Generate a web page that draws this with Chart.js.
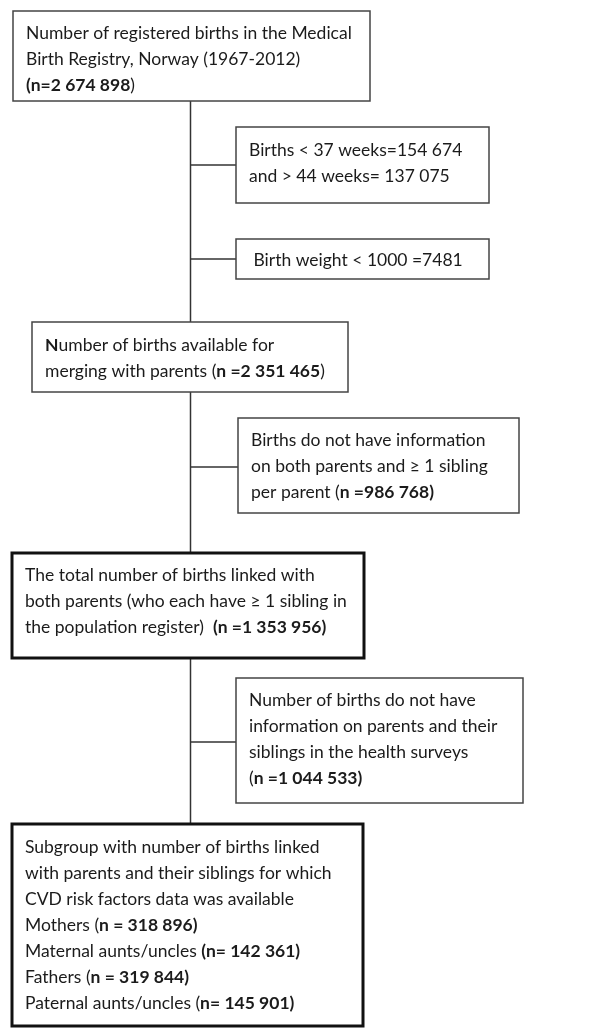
<!DOCTYPE html>
<html>
<head>
<meta charset="utf-8">
<script src="https://cdn.jsdelivr.net/npm/chart.js@4.4.1/dist/chart.umd.min.js"></script>
<style>
  html, body { margin: 0; padding: 0; background: #fff; }
  #wrap { width: 609px; height: 1028px; position: relative; }
</style>
</head>
<body>
<div id="wrap"><canvas id="flow"></canvas></div>
<script>
// ─── Data: box texts (** marks bold) ─────────────────────────
const mainSteps = [
  ['Number of registered births in the Medical', 'Birth Registry, Norway (1967-2012)', '**(n=2 674 898**)'],
  ['**N**umber of births available for', 'merging with parents (**n =2 351 465**)'],
  ['The total number of births linked with', 'both parents (who each have ≥ 1 sibling in', 'the population register)  **(n =1 353 956)**'],
  ['Subgroup with number of births linked', 'with parents and their siblings for which', 'CVD risk factors data was available',
   'Mothers (**n = 318 896)**', 'Maternal aunts/uncles **(n= 142 361)**', 'Fathers (**n = 319 844)**', 'Paternal aunts/uncles (**n= 145 901)**']
];
const exclusions = [
  ['Births < 37 weeks=154 674', 'and > 44 weeks= 137 075'],
  [' Birth weight < 1000 =7481'],
  ['Births do not have information', 'on both parents and ≥ 1 sibling', 'per parent (**n =986 768)**'],
  ['Number of births do not have', 'information on parents and their', 'siblings in the health surveys', '(**n =1 044 533)**']
];

// ─── Layout (pixel units on the hidden scales) ───────────────
const mainBoxes = [
  { x0: 13, y0: 11, x1: 370, y1: 101, lw: 1.5, top: 33 },
  { x0: 32, y0: 322, x1: 348, y1: 392, lw: 1.5, top: 345 },
  { x0: 12, y0: 553, x1: 364, y1: 658, lw: 3, top: 575 },
  { x0: 12, y0: 824, x1: 363, y1: 1026, lw: 3, top: 847 }
];
const sideBoxes = [
  { x0: 236, y0: 127, x1: 489, y1: 203, lw: 1.5, top: 150, link: 165 },
  { x0: 236, y0: 239, x1: 489, y1: 279, lw: 1.5, top: 260, link: 259 },
  { x0: 238, y0: 418, x1: 519, y1: 513, lw: 1.5, top: 440, link: 467 },
  { x0: 236, y0: 678, x1: 523, y1: 803, lw: 1.5, top: 700, link: 742 }
];
const spineX = 190.5;
const lineH = 26;
const FONT = 'Lato, "Open Sans", sans-serif';

function parseLine(str) {
  const parts = str.split('**');
  return parts.map((t, i) => ({ t, bold: i % 2 === 1 })).filter(p => p.t.length);
}

const flowPlugin = {
  id: 'flow',
  afterDraw(chart) {
    const { ctx, scales: { x, y } } = chart;
    const px = v => x.getPixelForValue(v);
    const py = v => y.getPixelForValue(v);
    ctx.save();
    ctx.lineCap = 'butt';

    // spine + connectors
    ctx.strokeStyle = '#333';
    ctx.lineWidth = 1.5;
    for (let i = 0; i < mainBoxes.length - 1; i++) {
      ctx.beginPath();
      ctx.moveTo(px(spineX), py(mainBoxes[i].y1));
      ctx.lineTo(px(spineX), py(mainBoxes[i + 1].y0));
      ctx.stroke();
    }
    sideBoxes.forEach(b => {
      ctx.beginPath();
      ctx.moveTo(px(spineX), py(b.link));
      ctx.lineTo(px(b.x0), py(b.link));
      ctx.stroke();
    });

    const drawBox = (b, lines, color) => {
      ctx.fillStyle = '#fff';
      ctx.fillRect(px(b.x0), py(b.y0), px(b.x1) - px(b.x0), py(b.y1) - py(b.y0));
      ctx.strokeStyle = color;
      ctx.lineWidth = b.lw;
      ctx.strokeRect(px(b.x0), py(b.y0), px(b.x1) - px(b.x0), py(b.y1) - py(b.y0));
      ctx.fillStyle = '#1b1b1b';
      ctx.textBaseline = 'middle';
      lines.forEach((ln, i) => {
        let cx = px(b.x0) + 13;
        const cy = py(b.top + i * lineH);
        parseLine(ln).forEach(seg => {
          ctx.font = (seg.bold ? 'bold ' : '') + '17.5px ' + FONT;
          ctx.fillText(seg.t, cx, cy);
          cx += ctx.measureText(seg.t).width;
        });
      });
    };
    mainBoxes.forEach((b, i) => drawBox(b, mainSteps[i], b.lw > 2 ? '#111' : '#444'));
    sideBoxes.forEach((b, i) => drawBox(b, exclusions[i], '#444'));
    ctx.restore();
  }
};

new Chart(document.getElementById('flow'), {
  type: 'scatter',
  data: { datasets: [{ data: [], pointRadius: 0 }] },
  options: {
    responsive: true,
    maintainAspectRatio: false,
    animation: false,
    events: [],
    layout: { padding: 0 },
    plugins: { legend: { display: false }, tooltip: { enabled: false } },
    scales: {
      x: { type: 'linear', min: 0, max: 609, display: false },
      y: { type: 'linear', min: 0, max: 1028, reverse: true, display: false }
    }
  },
  plugins: [flowPlugin]
});
</script>
</body>
</html>
